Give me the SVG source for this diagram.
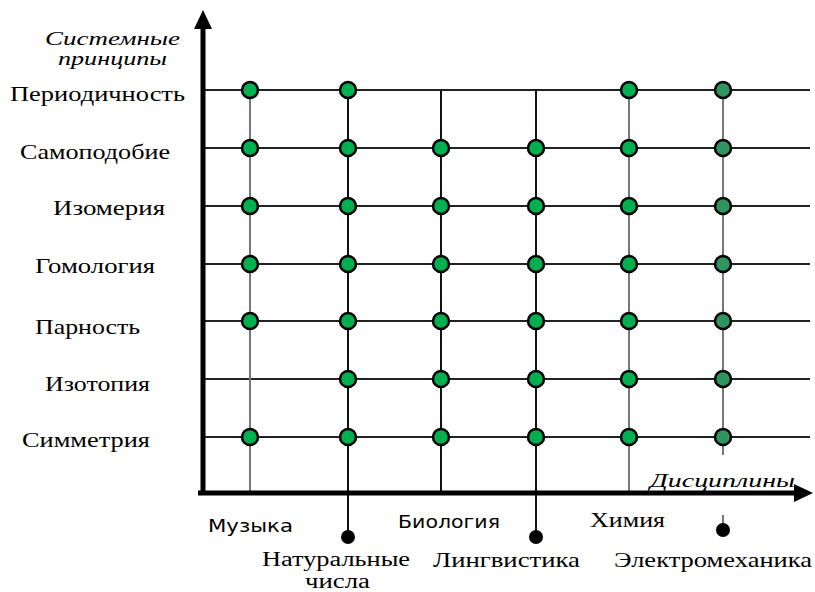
<svg xmlns="http://www.w3.org/2000/svg" width="815" height="592" viewBox="0 0 815 592">
<style>
.hl{stroke:#222;stroke-width:2}
.vb{stroke:#111;stroke-width:2}
.vg{stroke:#777;stroke-width:2}
.ax{stroke:#000;stroke-width:5}
.d{fill:#00b050;stroke:#000;stroke-width:2.5}
.d2{fill:#2e9560;stroke:#000;stroke-width:2.5}
.k{fill:#000}
.s{font-family:"Liberation Serif",serif;font-size:22px;fill:#000}
.s2{font-family:"Liberation Serif",serif;font-size:20px;fill:#000}
.ss{font-family:"DejaVu Sans","Liberation Sans",sans-serif;font-size:18px;fill:#000}
.it{font-family:"Liberation Serif",serif;font-style:italic;font-size:19px;fill:#000}
</style>
<rect width="815" height="592" fill="#fff"/>
<g id="connectors">
<g id="rows">
<line class="hl" x1="203" y1="90" x2="810" y2="90"/>
<line class="hl" x1="203" y1="148" x2="810" y2="148"/>
<line class="hl" x1="203" y1="206" x2="810" y2="206"/>
<line class="hl" x1="203" y1="264" x2="810" y2="264"/>
<line class="hl" x1="203" y1="321" x2="810" y2="321"/>
<line class="hl" x1="203" y1="379" x2="810" y2="379"/>
<line class="hl" x1="203" y1="437" x2="810" y2="437"/>
</g>
<g id="columns">
<line class="vg" x1="250" y1="90" x2="250" y2="493"/>
<line class="vb" x1="348" y1="90" x2="348" y2="535"/>
<line class="vb" x1="441" y1="90" x2="441" y2="493"/>
<line class="vb" x1="536" y1="90" x2="536" y2="535"/>
<line class="vg" x1="629" y1="90" x2="629" y2="493"/>
<line class="vg" x1="723" y1="90" x2="723" y2="455"/>
<line class="vg" x1="723" y1="515" x2="723" y2="528"/>
</g>
<g id="axes">
<line class="ax" x1="203" y1="26" x2="203" y2="495"/>
<polygon class="k" points="203,10 212,29 194,29"/>
<line class="ax" x1="198" y1="493" x2="796" y2="493"/>
<polygon class="k" points="813,493 794,484 794,502"/>
</g>
</g>
<g id="ends">
<circle class="k" cx="348" cy="537" r="7"/>
<circle class="k" cx="536" cy="537" r="7"/>
<circle class="k" cx="723" cy="530" r="7"/>
</g>
<g id="dots">
<circle class="d" cx="250" cy="90" r="8"/><circle class="d" cx="348" cy="90" r="8"/><circle class="d" cx="629" cy="90" r="8"/><circle class="d2" cx="723" cy="90" r="8"/>
<circle class="d" cx="250" cy="148" r="8"/><circle class="d" cx="348" cy="148" r="8"/><circle class="d" cx="441" cy="148" r="8"/><circle class="d" cx="536" cy="148" r="8"/><circle class="d" cx="629" cy="148" r="8"/><circle class="d2" cx="723" cy="148" r="8"/>
<circle class="d" cx="250" cy="206" r="8"/><circle class="d" cx="348" cy="206" r="8"/><circle class="d" cx="441" cy="206" r="8"/><circle class="d" cx="536" cy="206" r="8"/><circle class="d" cx="629" cy="206" r="8"/><circle class="d2" cx="723" cy="206" r="8"/>
<circle class="d" cx="250" cy="264" r="8"/><circle class="d" cx="348" cy="264" r="8"/><circle class="d" cx="441" cy="264" r="8"/><circle class="d" cx="536" cy="264" r="8"/><circle class="d" cx="629" cy="264" r="8"/><circle class="d2" cx="723" cy="264" r="8"/>
<circle class="d" cx="250" cy="321" r="8"/><circle class="d" cx="348" cy="321" r="8"/><circle class="d" cx="441" cy="321" r="8"/><circle class="d" cx="536" cy="321" r="8"/><circle class="d" cx="629" cy="321" r="8"/><circle class="d2" cx="723" cy="321" r="8"/>
<circle class="d" cx="348" cy="379" r="8"/><circle class="d" cx="441" cy="379" r="8"/><circle class="d" cx="536" cy="379" r="8"/><circle class="d" cx="629" cy="379" r="8"/><circle class="d2" cx="723" cy="379" r="8"/>
<circle class="d" cx="250" cy="437" r="8"/><circle class="d" cx="348" cy="437" r="8"/><circle class="d" cx="441" cy="437" r="8"/><circle class="d" cx="536" cy="437" r="8"/><circle class="d" cx="629" cy="437" r="8"/><circle class="d2" cx="723" cy="437" r="8"/>
</g>
<g id="y-labels">
<text class="it" x="45" y="45" textLength="135" lengthAdjust="spacingAndGlyphs">Системные</text>
<text class="it" x="58" y="65" textLength="109" lengthAdjust="spacingAndGlyphs">принципы</text>
<text class="s" x="10" y="101" textLength="175" lengthAdjust="spacingAndGlyphs">Периодичность</text>
<text class="s" x="20" y="159" textLength="150" lengthAdjust="spacingAndGlyphs">Самоподобие</text>
<text class="s" x="53" y="215" textLength="112" lengthAdjust="spacingAndGlyphs">Изомерия</text>
<text class="s" x="35" y="273" textLength="120" lengthAdjust="spacingAndGlyphs">Гомология</text>
<text class="s" x="35" y="334" textLength="105" lengthAdjust="spacingAndGlyphs">Парность</text>
<text class="s" x="45" y="391" textLength="105" lengthAdjust="spacingAndGlyphs">Изотопия</text>
<text class="s" x="22" y="447" textLength="128" lengthAdjust="spacingAndGlyphs">Симметрия</text>
</g>
<g id="x-labels">
<text class="it" x="650" y="487" textLength="145" lengthAdjust="spacingAndGlyphs">Дисциплины</text>
<text class="ss" x="208" y="532" textLength="85" lengthAdjust="spacingAndGlyphs">Музыка</text>
<text class="ss" x="398" y="528" textLength="102" lengthAdjust="spacingAndGlyphs">Биология</text>
<text class="s" x="590" y="527" textLength="75" lengthAdjust="spacingAndGlyphs">Химия</text>
<text class="s2" x="262" y="566" textLength="148" lengthAdjust="spacingAndGlyphs">Натуральные</text>
<text class="s2" x="305" y="588" textLength="65" lengthAdjust="spacingAndGlyphs">числа</text>
<text class="s" x="433" y="567" textLength="147" lengthAdjust="spacingAndGlyphs">Лингвистика</text>
<text class="s" x="614" y="567" textLength="198" lengthAdjust="spacingAndGlyphs">Электромеханика</text>
</g>
</svg>
